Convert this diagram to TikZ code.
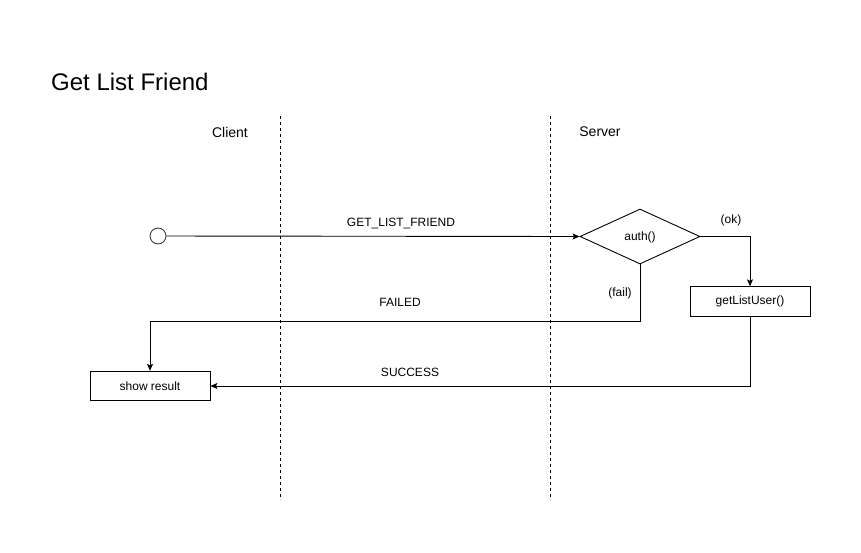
\documentclass[tikz,border=0pt]{standalone}
\usepackage{fontspec}
\setmainfont{Liberation Sans}
\usetikzlibrary{arrows.meta,shapes.geometric}
\begin{document}
\begin{tikzpicture}[x=1pt,y=-1pt,
  lbl/.style={font=\fontsize{12}{14}\selectfont, inner sep=0pt},
  box/.style={draw, line width=0.9pt, minimum width=120pt, minimum height=29.5pt, inner sep=0pt, font=\fontsize{12}{14}\selectfont},
  conn/.style={line width=0.9pt, -{Stealth[length=7pt,width=6pt,inset=1.5pt]}},
  lane/.style={line width=0.8pt, dash pattern=on 3pt off 3pt}]
\useasboundingbox (0,0) rectangle (861,552);
\node[anchor=west, inner sep=0pt, font=\fontsize{24}{28}\selectfont] (title) at (51,82) {Get List Friend};
\node[lbl, font=\fontsize{14}{16}\selectfont] (client) at (230,132) {Client};
\node[lbl, font=\fontsize{14}{16}\selectfont] (server) at (600,132) {Server};
\coordinate (l1a) at (280,116); \coordinate (l1b) at (280,500);
\coordinate (l2a) at (550,116); \coordinate (l2b) at (550,500);
\draw[lane] (l1a) -- (l1b);
\draw[lane] (l2a) -- (l2b);
\node[circle, draw=black!75, line width=0.9pt, minimum size=16pt, inner sep=0pt] (start) at (158,236) {};
\node[diamond, draw, line width=0.9pt, minimum width=120pt, minimum height=55pt, inner sep=0pt, aspect=2.18] (auth) at (640,236.5) {};
\node[lbl] (authtxt) at (640,237.5) {auth()};
\node[box] (glu) at (750,301.5) {getListUser()};
\node[box] (show) at (150,386) {show result};
\draw[conn] (start) -- (auth.west);
\node[lbl] (l1) at (401,223.5) {GET\_LIST\_FRIEND};
\draw[conn] (auth.east) -| (glu.north);
\node[lbl] (ok) at (731,220.5) {(ok)};
\draw[conn] (auth.south) |- (150,321) -- (show.north);
\node[lbl] (fail) at (620,293) {(fail)};
\node[lbl] (failed) at (400,302.5) {FAILED};
\draw[conn] (glu.south) |- (show.east);
\node[lbl] (succ) at (410,372.5) {SUCCESS};
\end{tikzpicture}
\end{document}
